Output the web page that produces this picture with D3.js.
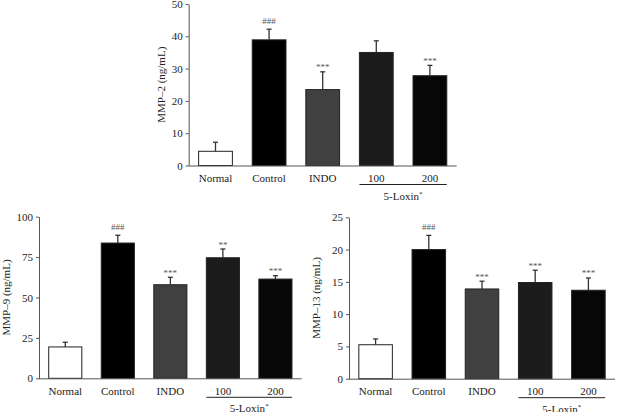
<!DOCTYPE html>
<html>
<head>
<meta charset="utf-8">
<script src="https://cdn.jsdelivr.net/npm/d3@7"></script>
<style>
  html, body { margin: 0; padding: 0; background: #fff; }
  svg { display: block; }
  text { font-family: "Liberation Serif", "DejaVu Serif", serif; }
</style>
</head>
<body>
<svg id="chart" width="619" height="412"></svg>
<script>
// ---------- data ----------
const categories = ["Normal", "Control", "INDO", "100", "200"];
const barColors  = ["#ffffff", "#000000", "#404040", "#1c1c1c", "#070707"];
const groupLabel = "5-Loxin";

const mmp2Mean = [4.4, 38.9, 23.5, 35.0, 27.8];
const mmp2Err  = [2.8, 3.3, 5.5, 3.6, 3.2];
const mmp2Sig  = ["", "###", "***", "", "***"];
const mmp2Ticks = [0, 10, 20, 30, 40, 50];

const mmp9Mean = [19.4, 83.7, 57.9, 74.6, 61.4];
const mmp9Err  = [2.9, 4.8, 4.6, 5.4, 2.1];
const mmp9Sig  = ["", "###", "***", "**", "***"];
const mmp9Ticks = [0, 25, 50, 75, 100];

const mmp13Mean = [5.26, 20.0, 13.9, 14.9, 13.7];
const mmp13Err  = [0.9, 2.2, 1.2, 1.9, 1.9];
const mmp13Sig  = ["", "###", "***", "***", "***"];
const mmp13Ticks = [0, 5, 10, 15, 20, 25];

// ---------- drawing ----------
const svg = d3.select("#chart");

function drawPanel(p) {
  const g = svg.append("g");
  const x = d3.scaleBand().domain(categories).range([p.x0, p.x1])
    .paddingInner(0.37).paddingOuter(0.185);
  const y = d3.scaleLinear().domain([0, p.ticks[p.ticks.length - 1]]).range([p.yBottom, p.yTop]);

  // bars
  g.selectAll("rect.bar").data(categories).join("rect")
    .attr("class", "bar")
    .attr("x", d => x(d))
    .attr("width", x.bandwidth())
    .attr("y", (d, i) => y(p.mean[i]))
    .attr("height", (d, i) => y(0) - y(p.mean[i]))
    .attr("fill", (d, i) => barColors[i])
    .attr("stroke", "#222")
    .attr("stroke-width", 1);

  // error bars (upper only)
  const eg = g.selectAll("g.err").data(categories).join("g").attr("class", "err");
  eg.append("line")
    .attr("x1", d => x(d) + x.bandwidth() / 2)
    .attr("x2", d => x(d) + x.bandwidth() / 2)
    .attr("y1", (d, i) => y(p.mean[i]))
    .attr("y2", (d, i) => y(p.mean[i] + p.err[i]))
    .attr("stroke", "#333").attr("stroke-width", 1.3);
  eg.append("line")
    .attr("x1", d => x(d) + x.bandwidth() / 2 - 2.5)
    .attr("x2", d => x(d) + x.bandwidth() / 2 + 2.5)
    .attr("y1", (d, i) => y(p.mean[i] + p.err[i]))
    .attr("y2", (d, i) => y(p.mean[i] + p.err[i]))
    .attr("stroke", "#333").attr("stroke-width", 1.3);

  // significance marks
  g.selectAll("text.sig").data(categories).join("text")
    .attr("class", "sig")
    .attr("x", d => x(d) + x.bandwidth() / 2)
    .attr("y", (d, i) => y(p.mean[i] + p.err[i]) - (p.sig[i].startsWith("#") ? 5 : 1.5))
    .attr("text-anchor", "middle")
    .attr("font-size", 9)
    .attr("fill", "#555")
    .text((d, i) => p.sig[i]);

  // y axis
  const yAxis = d3.axisLeft(y).tickValues(p.ticks).tickSize(3).tickSizeOuter(0).tickPadding(3);
  const ya = g.append("g").attr("transform", `translate(${p.x0},0)`).call(yAxis);
  ya.select(".domain").attr("stroke", "#555");
  ya.selectAll(".tick line").attr("stroke", "#555");
  ya.selectAll(".tick text").attr("font-size", 11).attr("fill", "#222")
    .attr("font-family", "Liberation Serif, DejaVu Serif, serif");

  // x axis baseline (no ticks)
  const xa = g.append("g").attr("transform", `translate(0,${p.yBottom})`)
    .call(d3.axisBottom(x).tickSize(0).tickSizeOuter(0).tickPadding(9));
  xa.select(".domain").attr("stroke", "#555").attr("d", `M${p.x0},0.5H${p.x1}`);
  xa.selectAll(".tick text").attr("font-size", 11).attr("fill", "#222")
    .attr("font-family", "Liberation Serif, DejaVu Serif, serif");

  // group bracket under 100 and 200
  const gx0 = x(categories[3]);
  const gx1 = x(categories[4]) + x.bandwidth();
  g.append("line")
    .attr("x1", gx0).attr("x2", gx1)
    .attr("y1", p.yBottom + 19).attr("y2", p.yBottom + 19)
    .attr("stroke", "#222").attr("stroke-width", 1);
  const gl = g.append("text")
    .attr("x", (gx0 + gx1) / 2)
    .attr("y", p.yBottom + 34)
    .attr("text-anchor", "middle")
    .attr("font-size", 11).attr("fill", "#222");
  gl.append("tspan").text(groupLabel);
  gl.append("tspan").attr("font-size", 7).attr("dy", -4).text("*");

  // y label
  g.append("text")
    .attr("transform", `translate(${p.labelX},${(p.yTop + p.yBottom) / 2}) rotate(-90)`)
    .attr("text-anchor", "middle")
    .attr("dominant-baseline", "middle")
    .attr("font-size", 11).attr("fill", "#222")
    .text(p.label);
}

drawPanel({ x0: 188.7, x1: 456.7, yTop: 4, yBottom: 165.5, ticks: mmp2Ticks,
  mean: mmp2Mean, err: mmp2Err, sig: mmp2Sig, label: "MMP–2 (ng/mL)", labelX: 162 });
drawPanel({ x0: 39, x1: 301.7, yTop: 216.7, yBottom: 378.3, ticks: mmp9Ticks,
  mean: mmp9Mean, err: mmp9Err, sig: mmp9Sig, label: "MMP–9 (ng/mL)", labelX: 7.5 });
drawPanel({ x0: 349, x1: 615, yTop: 217.3, yBottom: 378.7, ticks: mmp13Ticks,
  mean: mmp13Mean, err: mmp13Err, sig: mmp13Sig, label: "MMP–13 (ng/mL)", labelX: 317.5 });
</script>
</body>
</html>
